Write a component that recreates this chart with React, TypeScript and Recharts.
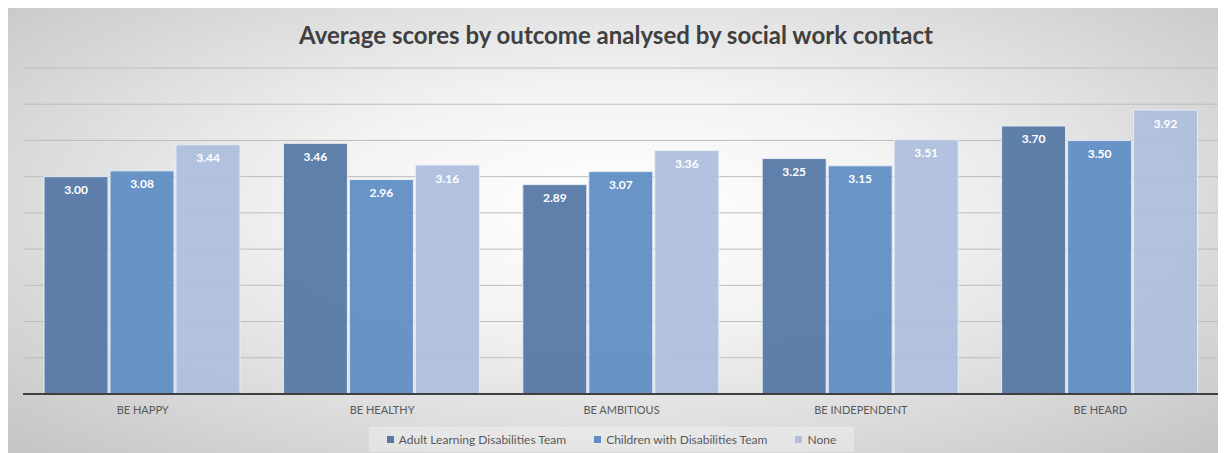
import React from "react";
import { BarChart, Bar, XAxis, YAxis, CartesianGrid, Legend, LabelList } from "recharts";

const categories = ["BE HAPPY", "BE HEALTHY", "BE AMBITIOUS", "BE INDEPENDENT", "BE HEARD"];
const adultTeam = [3.0, 3.46, 2.89, 3.25, 3.7];
const childrenTeam = [3.08, 2.96, 3.07, 3.15, 3.5];
const noneContact = [3.44, 3.16, 3.36, 3.51, 3.92];
const yTicks = [0, 0.5, 1, 1.5, 2, 2.5, 3, 3.5, 4, 4.5];

const seriesNames = ["Adult Learning Disabilities Team", "Children with Disabilities Team", "None"];
const seriesColors = ["#5679A6", "#608EC4", "#AFBFDC"];

const data = categories.map((c, i) => ({
  name: c,
  adult: adultTeam[i],
  children: childrenTeam[i],
  none: noneContact[i],
}));

const FONT = "Lato, 'Open Sans', sans-serif";

const LegendContent = (props: any) => {
  const { payload } = props;
  return (
    <div
      style={{
        display: "flex",
        justifyContent: "center",
        alignItems: "center",
        height: 25,
        background: "rgba(255,255,255,0.3)",
        fontFamily: FONT,
        fontSize: 12,
        color: "#595959",
      }}
    >
      {(payload || []).map((p: any, i: number) => (
        <div key={i} style={{ display: "flex", alignItems: "center", marginRight: i < 2 ? 28 : 0 }}>
          <span style={{ width: 7, height: 7, background: p.color, display: "inline-block", marginRight: 5 }} />
          <span>{p.value}</span>
        </div>
      ))}
    </div>
  );
};

const fmt = (v: any) => Number(v).toFixed(2);

export default function App() {
  return (
    <div
      style={{
        position: "relative",
        width: 1218,
        height: 445,
        marginLeft: -1,
        background: "radial-gradient(ellipse at 50% 45%, #ffffff 0%, #f3f3f3 35%, #dadada 70%, #c4c4c4 100%)",
        fontFamily: FONT,
      }}
    >
      <div
        style={{
          position: "absolute",
          top: 12,
          left: 0,
          width: "100%",
          textAlign: "center",
          fontSize: 24,
          fontWeight: 700,
          color: "#404040",
          fontFamily: FONT,
        }}
      >
        Average scores by outcome analysed by social work contact
      </div>
      <BarChart
        width={1218}
        height={445}
        data={data}
        margin={{ top: 60, right: 5, bottom: 29, left: 16 }}
        barCategoryGap={21}
        barGap={2}
      >
        <CartesianGrid vertical={false} stroke="#bdbdbd" strokeWidth={1} />
        <YAxis hide domain={[0, 4.5]} ticks={yTicks} />
        <XAxis
          dataKey="name"
          height={30}
          tickLine={false}
          axisLine={{ stroke: "#404040", strokeWidth: 2 }}
          tick={{ fill: "#595959", fontSize: 11, fontFamily: FONT }}
          tickMargin={6}
        />
        <Legend
          verticalAlign="middle"
          content={<LegendContent />}
          wrapperStyle={{ top: 419, left: 362, width: 485, height: 25 }}
        />
        <Bar dataKey="adult" name={seriesNames[0]} fill={seriesColors[0]} fillOpacity={0.95} stroke="#e6ecf5" strokeWidth={1} isAnimationActive={false}>
          <LabelList dataKey="adult" position="insideTop" offset={9} formatter={fmt} fill="#ffffff" fontSize={12} fontWeight={700} fontFamily={FONT} />
        </Bar>
        <Bar dataKey="children" name={seriesNames[1]} fill={seriesColors[1]} fillOpacity={0.95} stroke="#e6ecf5" strokeWidth={1} isAnimationActive={false}>
          <LabelList dataKey="children" position="insideTop" offset={9} formatter={fmt} fill="#ffffff" fontSize={12} fontWeight={700} fontFamily={FONT} />
        </Bar>
        <Bar dataKey="none" name={seriesNames[2]} fill={seriesColors[2]} fillOpacity={0.95} stroke="#e6ecf5" strokeWidth={1} isAnimationActive={false}>
          <LabelList dataKey="none" position="insideTop" offset={9} formatter={fmt} fill="#ffffff" fontSize={12} fontWeight={700} fontFamily={FONT} />
        </Bar>
      </BarChart>
    </div>
  );
}
